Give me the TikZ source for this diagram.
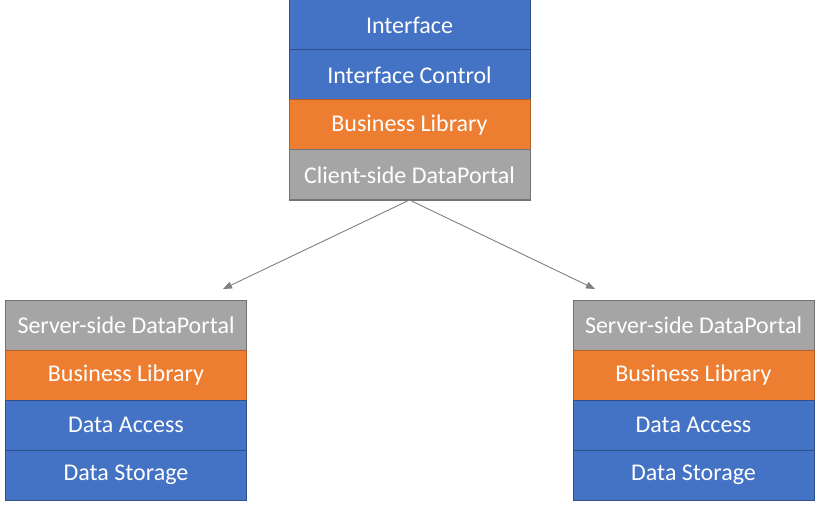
\documentclass[tikz,border=0pt]{standalone}
\usepackage{fontspec}
\setmainfont{Carlito}
\usetikzlibrary{positioning,arrows.meta}
\definecolor{layerblue}{HTML}{4472C4}
\definecolor{layerorange}{HTML}{ED7D31}
\definecolor{layergray}{HTML}{A5A5A5}
\begin{document}
\begin{tikzpicture}[x=1pt, y=1pt,
  layer/.style={minimum width=241pt, minimum height=50pt, inner sep=0pt,
    outer sep=0pt, line width=1pt, text=white, font=\fontsize{24}{28}\selectfont},
  ui/.style={layer, fill=layerblue, draw=layerblue!70!black},
  biz/.style={layer, fill=layerorange, draw=layerorange!75!black},
  portal/.style={layer, fill=layergray, draw=layergray!70!black},
  link/.style={-{Triangle[length=9pt,width=7pt]}, draw=black!50, line width=0.9pt}]
\useasboundingbox (0,0) rectangle (818,504);

% client stack
\node[ui] (iface) at (409.5,479) {Interface};
\node[ui, below=0pt of iface] (ictrl) {Interface Control};
\node[biz, below=0pt of ictrl] (cbiz) {Business Library};
\node[portal, below=0pt of cbiz] (cportal) {Client-side DataPortal};

% server stack, left
\node[portal] (lportal) at (126,179) {Server-side DataPortal};
\node[biz, below=0pt of lportal] (lbiz) {Business Library};
\node[ui, below=0pt of lbiz] (laccess) {Data Access};
\node[ui, below=0pt of laccess] (lstore) {Data Storage};

% server stack, right
\node[portal] (rportal) at (693.5,179) {Server-side DataPortal};
\node[biz, below=0pt of rportal] (rbiz) {Business Library};
\node[ui, below=0pt of rbiz] (raccess) {Data Access};
\node[ui, below=0pt of raccess] (rstore) {Data Storage};

% calls to the servers
\coordinate (ltip) at (223,215);
\coordinate (rtip) at (595,215);
\draw[link] (cportal.south) -- (ltip);
\draw[link] (cportal.south) -- (rtip);
\end{tikzpicture}
\end{document}
